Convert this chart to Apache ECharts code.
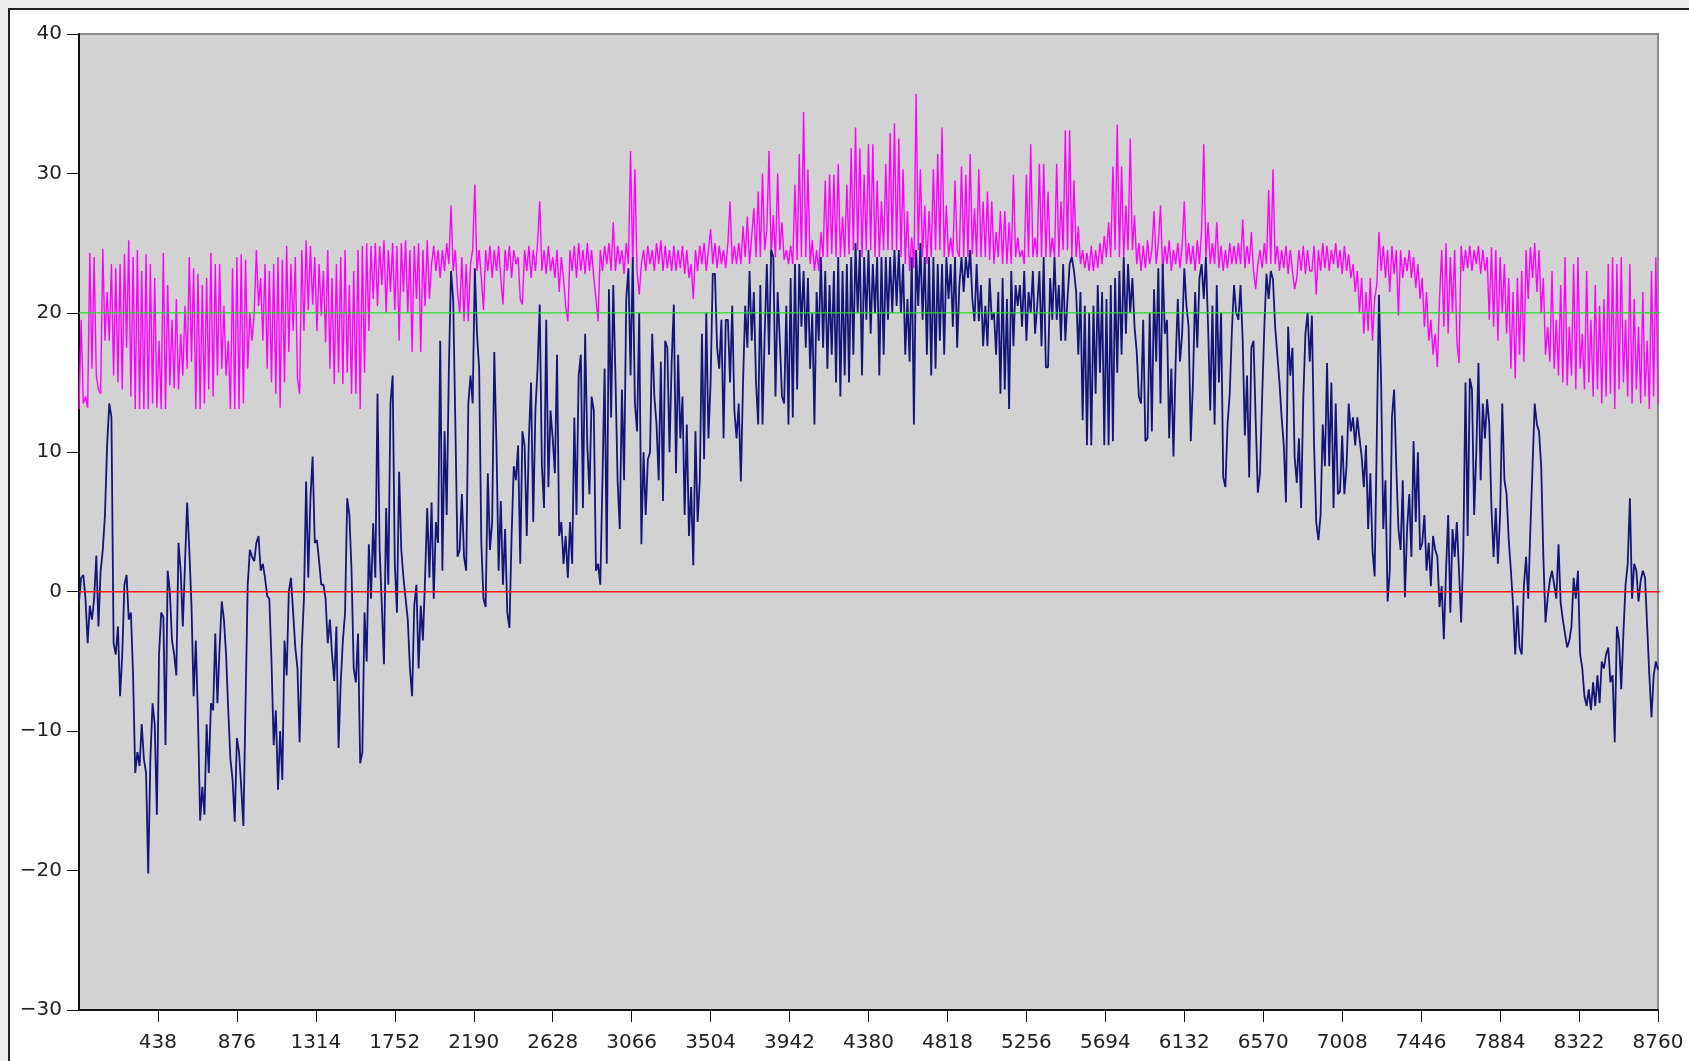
<!DOCTYPE html>
<html>
<head>
<meta charset="utf-8">
<title>Hourly temperatures</title>
<script src="https://cdn.jsdelivr.net/npm/echarts@6/dist/echarts.min.js"></script>
<style>
  html, body { margin: 0; padding: 0; background: #ededed; }
  .frame {
    position: absolute; left: 8px; top: 8px; width: 1681px; height: 1053px;
    background: #ffffff; border-left: 2px solid #222; border-top: 2px solid #222;
    box-sizing: border-box;
  }
  #chart { position: absolute; left: 0; top: 0; width: 1689px; height: 1061px; }
</style>
</head>
<body>
<div class="frame"></div>
<div id="chart"></div>
<script>
// outdoor temperature, one reading every 12 h over the year
const outdoorTemp = [
  -0.7, 1.0, 1.2, -0.5, -3.7, -1.0, -2.0, -0.5, 2.6, -2.5, 1.5, 3.0, 5.5, 10.5, 13.5, 12.5, -3.7, -4.5, -2.5, -7.5,
  -4.5, 0.5, 1.2, -2.0, -1.5, -6.0, -13.0, -11.5, -12.5, -9.5, -12.0, -13.0, -20.2, -12.0, -8.0, -9.5, -16.0, -4.5, -1.5, -1.8,
  -11.0, 1.5, 0.0, -3.5, -4.5, -6.0, 3.5, 1.5, -2.5, 2.0, 6.4, 3.0, -1.0, -7.5, -3.5, -9.0, -16.4, -14.0, -16.0, -9.5,
  -13.0, -8.0, -8.5, -3.0, -8.0, -4.0, -0.7, -2.0, -4.5, -8.5, -12.0, -13.5, -16.5, -10.5, -11.5, -14.0, -16.8, -8.0, 0.5, 3.0,
  2.5,
  2.2, 3.5, 4.0, 1.5, 2.0, 1.0, -0.3, -0.5, -5.0, -11.0, -8.5, -14.2, -10.0, -13.5, -3.5, -6.0, 0.0, 1.0, -1.5, -4.0,
  -5.5, -10.8, -4.0, -0.5, 7.9, 1.0, 6.7, 9.7, 3.5, 3.7, 2.2, 0.5, 0.5, -0.5, -3.7, -2.0, -4.5, -6.4, -2.5, -11.2,
  -6.5, -3.5, -1.5, 6.7, 5.5, 1.5, -5.5, -6.5, -3.0, -12.3, -11.5, -1.5, -5.0, 3.4, -0.5, 4.9, 1.0, 14.2, 3.0, -1.0,
  -5.2, 6.0, 0.5, 13.5, 15.5, 2.0, -1.5, 8.6, 3.0, 1.0, -0.5, -2.0, -5.5, -7.5, -1.0, 0.5, -5.5, -1.0, -3.5, 1.0,
  6.0, 1.0,
  6.4, -0.5, 5.0, 3.5, 18.0, 1.5, 11.5, 5.5, 16.0, 23.0, 20.9, 12.0, 2.5, 3.0, 7.0, 2.5, 1.5, 13.5, 15.5, 13.5,
  23.2, 18.5, 16.0, 3.5, -0.5, -1.1, 8.5, 3.0, 5.0, 17.2, 10.5, 1.5, 6.5, 0.5, 4.5, -1.5, -2.6, 4.0, 9.0, 8.0,
  10.5, 2.0, 11.5, 10.5, 4.0, 11.0, 15.0, 5.0, 13.0, 16.0, 20.6, 9.0, 6.0, 19.5, 7.5, 13.0, 11.0, 8.5, 17.0, 4.0,
  5.0, 2.0, 4.0, 1.0, 5.0, 2.0, 12.5, 5.5, 15.5, 17.0, 6.0, 18.5, 10.5, 7.0, 14.0, 13.0, 1.5, 2.0, 0.5, 8.0,
  16.0,
  2.0, 21.7, 12.5, 22.0, 15.5, 8.0, 4.5, 14.5, 8.0, 21.0, 23.2, 15.5, 24.0, 13.5, 11.5, 20.0, 3.4, 10.0, 5.5, 9.5,
  10.0, 18.5, 14.0, 12.0, 8.0, 16.5, 6.5, 18.0, 17.5, 10.0, 16.5, 20.6, 8.5, 17.0, 11.0, 14.0, 5.5, 12.0, 4.0, 7.5,
  1.9, 11.5, 5.0, 8.0, 18.5, 9.5, 20.0, 11.0, 15.0, 22.8, 22.8, 17.5, 16.0, 19.5, 11.0, 19.5, 19.5, 15.0, 20.5, 13.0,
  11.0, 13.5, 7.9, 15.0, 20.5, 17.5, 23.0, 18.0, 21.5, 15.0, 12.0, 22.0, 12.0, 18.5, 23.5, 17.0, 24.5, 24.0, 14.0, 21.5,
  18.0, 14.0,
  13.5, 20.5, 12.0, 22.5, 12.5, 23.5, 14.5, 23.5, 19.0, 23.0, 17.5, 22.5, 16.0, 20.0, 12.0, 21.5, 18.0, 24.0, 17.5, 23.0,
  16.0, 22.0, 17.0, 23.0, 15.0, 24.0, 14.0, 23.0, 15.5, 23.5, 15.0, 24.0, 17.0, 25.0, 20.0, 24.5, 15.5, 24.0, 19.5, 24.5,
  18.5, 23.5, 20.0, 24.0, 15.5, 24.0, 17.0, 24.0, 19.5, 24.0, 20.0, 24.5, 20.5, 24.5, 20.0, 23.5, 17.0, 21.0, 16.5, 24.0,
  12.0, 24.5, 20.5, 25.0, 19.5, 24.0, 17.0, 24.0, 15.5, 24.0, 16.0, 23.5, 18.0, 23.5, 17.0, 24.0, 21.0, 23.5, 19.0, 24.0,
  17.5,
  22.0, 24.0, 21.5, 24.0, 22.5, 24.5, 21.0, 19.4, 23.5, 19.4, 22.0, 17.6, 20.5, 17.6, 22.5, 19.5, 20.0, 17.0, 21.5, 14.2,
  22.5, 14.5, 21.0, 13.1, 23.0, 17.6, 22.0, 20.5, 22.0, 19.0, 23.0, 18.0, 21.5, 20.0, 23.0, 18.5, 20.5, 23.0, 17.6, 24.0,
  16.1, 16.1, 22.5, 19.5, 24.0, 19.5, 22.0, 18.0, 23.5, 18.0, 21.0, 23.5, 24.0, 23.0, 21.5, 17.0, 21.5, 12.3, 20.5, 10.5,
  20.0, 10.5, 20.5, 14.2, 22.0, 15.7, 21.5, 10.5, 21.0, 10.5, 22.0, 10.8, 22.5, 15.7, 23.0, 17.0, 24.0, 18.5, 23.5, 20.0,
  22.5, 19.0,
  17.2, 14.0, 13.5, 19.5, 10.8, 11.0, 20.0, 11.5, 21.7, 16.5, 23.2, 13.5, 23.5, 18.5, 19.5, 11.0, 16.0, 9.7, 16.5, 21.0,
  16.5, 18.5, 23.2, 20.5, 19.0, 10.8, 15.0, 21.5, 17.5, 22.5, 23.5, 21.0, 24.0, 19.0, 13.0, 20.5, 12.0, 22.0, 15.0, 20.0,
  8.2, 7.5, 12.0, 14.2, 18.7, 22.0, 20.0, 19.5, 22.0, 18.0, 11.2, 15.5, 8.2, 17.5, 18.0, 12.3, 7.1, 8.5, 14.0, 19.0,
  22.8, 21.0, 23.0, 22.4, 19.0, 17.0, 15.0, 12.5, 10.5, 6.4, 19.0, 15.5, 17.5, 9.7, 7.8, 11.0, 6.0, 13.8, 18.5, 20.0,
  16.5,
  19.8, 10.5, 5.0, 3.7, 5.5, 12.0, 9.0, 16.4, 9.0, 15.0, 6.0, 13.5, 7.0, 7.2, 11.2, 7.0, 9.0, 13.5, 11.5, 12.5,
  10.5, 12.5, 11.0, 9.7, 7.5, 10.5, 4.5, 8.5, 3.0, 1.1, 11.0, 21.3, 15.0, 4.5, 8.0, -0.7, 1.5, 12.5, 14.5, 9.0,
  4.5, 3.0, 8.0, -0.4, 4.5, 7.0, 2.5, 10.8, 5.0, 10.0, 3.0, 3.5, 5.5, 1.5, 3.5, 0.4, 4.0, 3.0, 2.5, -1.1,
  0.4, -3.4, 1.5, 5.5, -1.5, 4.5, 2.5, 5.0, 1.5, -2.2, 3.0, 15.0, 4.0, 15.3, 14.5, 5.5, 10.0, 16.4, 8.0, 13.5,
  11.0,
  13.8, 12.0, 6.0, 2.5, 6.0, 2.0, 5.5, 13.5, 8.0, 7.0, 3.7, 1.5, -1.0, -4.5, -1.0, -4.0, -4.5, 0.4, 2.5, -0.5,
  4.5, 9.0, 13.5, 12.0, 11.5, 9.0, 2.5, -2.2, -0.4, 0.8, 1.5, 0.5, -0.5, 3.4, -0.8, -2.0, -3.0, -4.0, -3.5, -2.5,
  1.0, -0.5, 1.5, -4.5, -5.5, -7.5, -8.2, -7.0, -8.5, -6.5, -8.2, -6.0, -8.0, -5.0, -5.5, -4.5, -4.0, -6.5, -6.0, -10.8,
  -2.5, -3.5, -7.0, -3.0, 0.5, 2.0, 6.7, -0.5, 2.0, 1.5, -0.7, 0.8, 1.5, 1.0, -2.5, -6.0, -9.0, -6.0, -5.0, -5.6
];

// indoor temperature, same 12 h readings
const indoorTemp = [
  13.1, 19.5, 13.5, 14.0, 13.2, 24.3, 16.0, 24.0, 15.5, 14.5, 14.2, 24.6, 18.0, 21.5, 18.0, 23.5, 15.5, 23.2, 15.0, 23.5,
  14.5, 24.2, 17.5, 25.2, 14.0, 24.0, 13.1, 24.5, 13.1, 23.0, 13.1, 24.2, 13.1, 23.5, 13.5, 22.5, 13.2, 18.0, 13.1, 24.3,
  13.1, 22.0, 14.8, 19.5, 14.6, 21.0, 14.5, 18.5, 15.5, 20.5, 16.0, 24.0, 16.5, 23.2, 13.1, 22.8, 13.1, 22.0, 13.5, 22.5,
  14.5, 24.3, 14.0, 23.5, 15.5, 23.5, 16.0, 20.5, 15.5, 18.0, 13.1, 23.2, 13.1, 24.0, 13.1, 24.2, 13.5, 23.8, 16.0, 20.0,
  18.0,
  20.0, 24.5, 20.5, 22.5, 18.0, 23.5, 16.0, 23.0, 15.0, 23.5, 14.2, 24.0, 13.2, 23.8, 15.0, 24.8, 17.2, 23.5, 18.7, 24.0,
  15.3, 14.2, 24.5, 18.7, 25.2, 20.2, 24.8, 20.6, 24.0, 18.7, 23.5, 19.8, 23.0, 17.9, 24.5, 16.0, 22.5, 14.9, 23.5, 15.7,
  24.0, 14.9, 24.5, 15.7, 22.0, 14.2, 23.0, 14.2, 24.5, 13.1, 24.8, 15.7, 25.0, 18.7, 24.8, 21.0, 25.0, 20.5, 24.8, 22.0,
  25.2, 20.0, 24.5, 21.5, 25.0, 20.2, 24.8, 18.0, 25.0, 21.5, 25.2, 20.0, 24.5, 17.2, 24.8, 21.0, 25.0, 17.2, 24.5, 20.5,
  25.2, 21.0,
  23.5, 24.8, 23.0, 24.5, 22.5, 24.5, 23.0, 25.0, 23.5, 27.7, 23.0, 24.5, 21.5, 20.0, 24.0, 19.4, 23.5, 19.4, 23.5, 24.5,
  29.2, 23.0, 24.5, 22.5, 20.2, 24.5, 23.0, 24.8, 22.5, 24.5, 23.0, 24.8, 22.5, 20.6, 24.5, 23.0, 24.8, 22.5, 24.5, 23.5,
  24.0, 21.0, 20.6, 24.5, 23.0, 24.8, 22.5, 24.5, 23.0, 25.0, 28.0, 23.0, 24.5, 22.8, 24.8, 23.0, 24.0, 22.5, 24.5, 21.5,
  24.0, 22.5, 20.5, 19.4, 24.5, 23.0, 24.8, 22.5, 25.0, 23.0, 24.5, 22.8, 25.0, 23.0, 24.5, 22.5, 21.0, 19.4, 24.5, 23.0,
  24.8,
  23.5, 25.0, 23.0, 26.5, 23.0, 24.8, 23.5, 24.5, 22.8, 25.0, 23.5, 31.6, 23.5, 30.3, 23.0, 21.3, 23.5, 24.5, 23.0, 24.8,
  23.5, 24.5, 23.0, 25.0, 23.5, 25.2, 23.0, 24.8, 23.2, 24.5, 23.0, 24.8, 23.0, 24.5, 23.2, 24.8, 22.8, 24.5, 22.5, 23.5,
  21.0, 24.5, 23.0, 24.8, 23.5, 25.0, 23.0, 24.5, 26.0, 23.5, 25.0, 23.2, 24.8, 23.5, 24.5, 23.2, 25.0, 28.0, 23.5, 24.8,
  23.5, 25.0, 23.5, 26.2, 24.0, 26.9, 23.5, 25.5, 27.5, 24.0, 28.7, 24.0, 30.0, 24.5, 26.0, 31.6, 24.0, 27.0, 24.0, 30.0,
  24.5, 26.5,
  23.8, 24.5, 23.5, 24.8, 23.5, 29.2, 23.8, 31.4, 24.0, 34.4, 24.0, 30.3, 23.5, 25.2, 23.0, 24.5, 23.0, 25.8, 24.0, 29.5,
  24.0, 29.9, 24.2, 29.9, 24.0, 30.7, 24.0, 26.9, 24.0, 29.2, 24.2, 31.8, 24.5, 33.3, 24.5, 31.8, 24.0, 29.9, 24.5, 32.1,
  24.5, 32.1, 24.0, 29.5, 24.0, 28.0, 24.5, 30.7, 24.5, 32.9, 24.5, 33.6, 24.5, 32.5, 24.0, 30.3, 23.5, 27.3, 23.0, 25.4,
  23.2, 35.7, 24.5, 30.3, 24.0, 27.7, 23.5, 27.3, 24.0, 30.3, 24.5, 31.4, 24.5, 33.3, 24.0, 27.7, 24.0, 25.4, 24.0, 29.5,
  24.5,
  24.0, 30.5, 24.0, 29.9, 24.0, 31.4, 24.2, 27.5, 24.0, 30.3, 24.0, 28.0, 24.0, 28.7, 23.8, 28.0, 23.5, 25.8, 24.0, 27.3,
  23.5, 27.3, 23.5, 26.5, 23.5, 29.9, 24.0, 25.4, 24.0, 24.5, 23.5, 29.9, 24.0, 32.1, 24.0, 25.4, 24.0, 30.7, 24.0, 30.7,
  24.0, 28.7, 24.0, 25.4, 24.0, 30.7, 24.0, 28.0, 24.5, 33.1, 24.5, 33.1, 24.0, 29.5, 24.0, 26.2, 23.5, 24.5, 23.2, 24.3,
  23.0, 24.8, 23.0, 24.5, 23.2, 25.0, 23.5, 25.5, 24.0, 26.5, 24.0, 30.5, 24.5, 33.5, 24.0, 30.5, 24.0, 27.7, 24.5, 32.5,
  24.5, 27.0,
  23.5, 25.0, 23.0, 24.8, 23.2, 25.2, 23.5, 24.5, 27.3, 23.5, 25.0, 27.7, 23.0, 24.8, 23.5, 25.2, 23.0, 24.5, 23.5, 25.0,
  23.2, 24.8, 28.0, 23.5, 25.0, 23.5, 24.8, 23.0, 25.2, 23.5, 26.0, 32.1, 24.0, 26.5, 23.5, 25.0, 23.5, 26.5, 23.2, 24.8,
  23.0, 24.5, 23.2, 25.0, 23.5, 24.8, 23.5, 25.0, 23.5, 26.7, 23.2, 24.8, 23.5, 25.8, 23.0, 21.7, 23.5, 24.5, 23.2, 25.0,
  23.5, 28.8, 23.5, 30.3, 23.5, 24.8, 23.0, 24.5, 23.2, 24.8, 22.8, 24.5, 23.0, 21.7, 22.5, 24.5, 23.0, 24.8, 22.8, 24.5,
  23.0,
  23.0, 24.8, 21.3, 24.5, 23.0, 25.0, 23.2, 24.8, 23.0, 24.5, 23.5, 25.0, 23.2, 24.5, 22.8, 24.8, 23.0, 24.2, 22.5, 23.5,
  21.5, 23.0, 20.0, 22.5, 18.5, 21.5, 18.7, 22.5, 18.0, 21.0, 22.0, 25.8, 23.0, 24.8, 22.5, 24.5, 21.5, 24.8, 22.8, 24.5,
  19.8, 24.5, 22.5, 24.0, 23.0, 24.5, 22.5, 24.0, 21.8, 23.5, 21.0, 22.5, 19.0, 21.5, 18.0, 19.5, 17.0, 18.5, 16.1, 21.0,
  24.5, 19.0, 25.0, 18.5, 24.0, 20.0, 24.5, 18.0, 16.4, 24.8, 23.0, 24.5, 23.2, 24.8, 23.0, 24.5, 23.5, 24.8, 22.8, 24.5,
  23.0,
  24.0, 19.5, 24.7, 19.0, 24.5, 18.0, 24.0, 20.0, 23.5, 18.5, 22.5, 16.0, 21.5, 15.3, 22.5, 17.0, 23.0, 16.5, 24.5, 21.0,
  24.7, 22.5, 25.0, 21.5, 24.5, 20.0, 22.5, 17.0, 19.0, 16.5, 23.0, 16.0, 19.5, 15.5, 22.0, 15.0, 24.0, 14.8, 19.0, 15.5,
  23.5, 14.5, 24.0, 16.0, 18.5, 14.5, 23.0, 15.0, 19.5, 14.0, 22.0, 14.5, 20.5, 13.5, 21.0, 14.0, 23.5, 14.2, 24.0, 13.1,
  23.5, 14.5, 24.0, 15.0, 19.5, 14.0, 23.5, 13.5, 21.0, 14.5, 19.0, 13.5, 21.5, 14.0, 18.0, 13.1, 23.0, 14.0, 24.0, 13.5
];

const totalHours = 8760;
const hourTicks = 438;
const yMin = -30, yMax = 40, yStep = 10;
const setpointLine = 20;   // green
const freezingLine = 0;    // red
const refLineEnd = 8828;   // the two reference lines run a little past the frame

const hourStep = totalHours / (outdoorTemp.length - 1);
const toPoints = arr => arr.map((v, i) => [i * hourStep, v]);

const chart = echarts.init(document.getElementById('chart'));

chart.setOption({
  animation: false,
  backgroundColor: 'transparent',
  grid: {
    left: 79, right: 31, top: 34, bottom: 51,
    show: true, backgroundColor: '#d2d2d2', borderColor: '#8c8c8c', borderWidth: 2
  },
  xAxis: {
    type: 'value', min: 0, max: totalHours, interval: hourTicks,
    axisLine: { onZero: false, lineStyle: { color: '#111', width: 2 } },
    axisTick: { length: 12, lineStyle: { color: '#111', width: 1 } },
    axisLabel: {
      showMinLabel: false, margin: 23,
      fontFamily: 'DejaVu Sans', fontSize: 20, color: '#222',
      formatter: v => String(v)
    },
    splitLine: { show: false }
  },
  yAxis: {
    type: 'value', min: yMin, max: yMax, interval: yStep,
    axisLine: { show: true, lineStyle: { color: '#111', width: 2 } },
    axisTick: { show: true, length: 12, lineStyle: { color: '#111', width: 1 } },
    axisLabel: {
      margin: 17, fontFamily: 'DejaVu Sans', fontSize: 20, color: '#222',
      formatter: v => String(v).replace('-', '\u2212')
    },
    splitLine: { show: false }
  },
  series: [
    {
      name: 'indoor', type: 'line', data: toPoints(indoorTemp),
      symbol: 'none', lineStyle: { color: '#ff00ff', width: 1.4 }, z: 2
    },
    {
      name: 'outdoor', type: 'line', data: toPoints(outdoorTemp),
      symbol: 'none', lineStyle: { color: '#14147a', width: 1.8 }, z: 3
    },
    {
      name: 'setpoint', type: 'line', clip: false,
      data: [[0, setpointLine], [refLineEnd, setpointLine]],
      symbol: 'none', lineStyle: { color: '#22e022', width: 1.2 }, z: 4
    },
    {
      name: 'zero', type: 'line', clip: false,
      data: [[0, freezingLine], [refLineEnd, freezingLine]],
      symbol: 'none', lineStyle: { color: '#ff1a1a', width: 1.4 }, z: 4
    }
  ]
});
</script>
</body>
</html>
